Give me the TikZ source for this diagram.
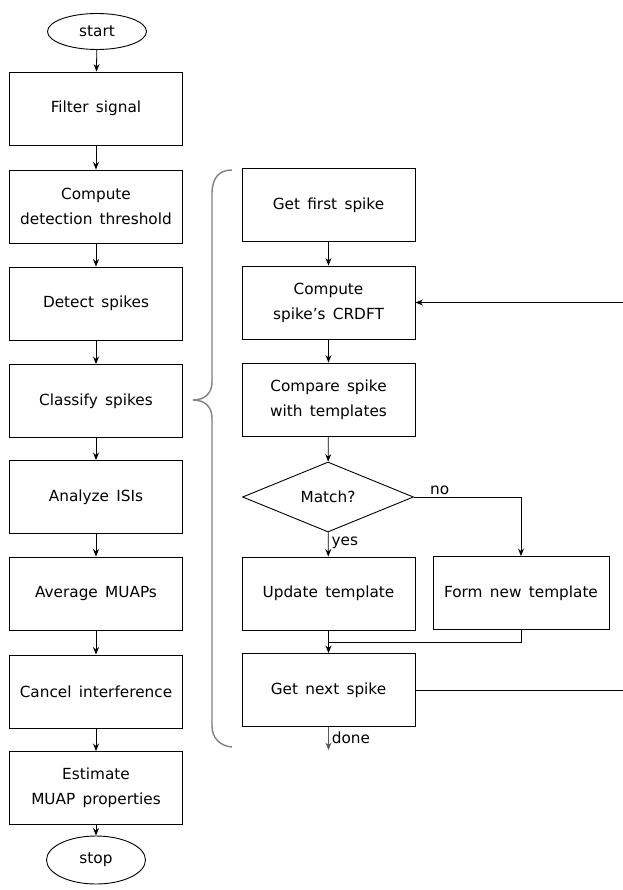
\documentclass[tikz,border=0pt]{standalone}
\usepackage{fontspec}
\setmainfont{DejaVu Sans}[WordSpace=1.5]
\usetikzlibrary{shapes.geometric,arrows.meta}
\begin{document}
\begin{tikzpicture}[x=1pt,y=-1pt,
  font=\fontsize{15.3}{25}\selectfont,
  box/.style={draw, line width=0.9pt, minimum width=173pt, minimum height=73pt, align=center, inner sep=0pt},
  term/.style={draw, ellipse, line width=0.9pt, minimum width=99pt, inner sep=0pt},
  dec/.style={draw, diamond, line width=0.9pt, minimum width=171pt, minimum height=70pt, inner sep=0pt},
  arr/.style={-{Stealth[length=7.5pt,width=6pt]}, line width=0.8pt},
  ln/.style={line width=0.8pt}]
\useasboundingbox (0,0) rectangle (622,890);
% left column
\node[term, minimum height=36pt] (start) at (97,31.5) {start};
\node[box] (filter) at (96,108.5) {Filter signal};
\node[box] (thresh) at (96,206.5) {Compute\\detection threshold};
\node[box] (detect) at (96,303.5) {Detect spikes};
\node[box] (classify) at (96,401) {Classify spikes};
\node[box] (isi) at (96,497) {Analyze ISIs};
\node[box] (avg) at (96,593.5) {Average MUAPs};
\node[box] (cancel) at (96,691.5) {Cancel interference};
\node[box] (estimate) at (96,788) {Estimate\\MUAP properties};
\node[term, minimum height=48pt] (stop) at (96,860) {stop};
\draw[arr] (start) -- (filter);
\draw[arr] (filter) -- (thresh);
\draw[arr] (thresh) -- (detect);
\draw[arr] (detect) -- (classify);
\draw[arr] (classify) -- (isi);
\draw[arr] (isi) -- (avg);
\draw[arr] (avg) -- (cancel);
\draw[arr] (cancel) -- (estimate);
\draw[arr] (estimate) -- (stop);
% brace
\draw[gray, line width=1.4pt] (232,170) .. controls (219,170) and (212,178) .. (212,194)
  -- (212,382) .. controls (212,393) and (205,400) .. (193,400)
  .. controls (205,400) and (212,407) .. (212,418)
  -- (212,726) .. controls (212,738) and (220,746) .. (232,747);
% right column
\node[box] (first) at (328.5,205) {Get first spike};
\node[box] (crdft) at (328.5,302.5) {Compute\\spike's CRDFT};
\node[box] (compare) at (328.5,399.5) {Compare spike\\with templates};
\node[dec] (match) at (328,497) {Match?};
\node[box] (update) at (328.5,593.5) {Update template};
\node[box, minimum width=176pt] (form) at (521,593) {Form new template};
\node[box] (next) at (328.5,690) {Get next spike};
\coordinate (mj) at (328.5,642);
\coordinate (dn) at (328.5,750);
\draw[arr] (first) -- (crdft);
\draw[arr] (crdft) -- (compare);
\draw[arr] (compare) -- (match);
\draw[arr] (match) -- node[right, pos=0.45, inner sep=3pt] {yes} (update);
\draw[arr] (match.east) -| node[pos=0.12, above, inner sep=2pt] {no} (form.north);
\draw[arr] (update) -- (next);
\draw[ln] (form.south) |- (mj);
\draw[arr] (next.east) -- ++(212,0) |- (crdft.east);
\draw[arr, gray!70!black] (next.south) -- node[right, pos=0.45, black, inner sep=3pt] {done} (dn);
\end{tikzpicture}
\end{document}
